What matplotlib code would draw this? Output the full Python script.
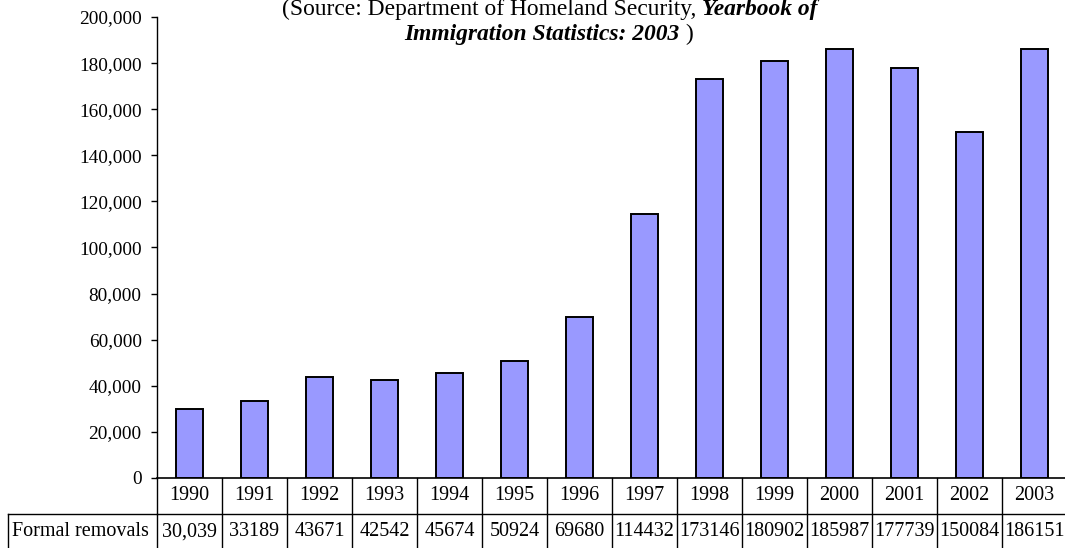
import matplotlib
matplotlib.use("Agg")
import matplotlib.pyplot as plt
import matplotlib.transforms as mtransforms
from matplotlib.ticker import FuncFormatter, MultipleLocator

plt.rcParams['font.family'] = ['Liberation Serif', 'DejaVu Serif']

years = ["1990", "1991", "1992", "1993", "1994", "1995", "1996",
         "1997", "1998", "1999", "2000", "2001", "2002", "2003"]
removals = [30039, 33189, 43671, 42542, 45674, 50924, 69680,
            114432, 173146, 180902, 185987, 177739, 150084, 186151]
table_labels = ["30,039", "33189", "43671", "42542", "45674", "50924", "69680",
                "114432", "173146", "180902", "185987", "177739", "150084", "186151"]
series_name = "Formal removals"

W, H = 1065, 548
FS_TICK = 13.9
FS_TAB = 14.5
FS_TITLE = 16.9
fig = plt.figure(figsize=(W / 100, H / 100), dpi=100)
ax_left, ax_right, ax_top, ax_bottom = 157, 1067, 17, 478
ax = fig.add_axes([ax_left / W, 1 - ax_bottom / H, (ax_right - ax_left) / W, (ax_bottom - ax_top) / H])

x = list(range(len(years)))
ax.bar(x, removals, width=0.43, color="#9999FF", edgecolor="black", linewidth=1.4)
ax.set_xlim(-0.5, len(years) - 0.5)
ax.set_ylim(0, 200000)
ax.yaxis.set_major_locator(MultipleLocator(20000))
ax.yaxis.set_major_formatter(FuncFormatter(lambda v, p: f"{int(v):,}"))
ax.tick_params(axis='y', direction='out', length=4, width=1, labelsize=FS_TICK, pad=7)
ax.set_xticks([])
for s in ['top', 'right']:
    ax.spines[s].set_visible(False)
ax.spines['left'].set_linewidth(1)
ax.spines['bottom'].set_linewidth(1.2)

# data table
tr = mtransforms.blended_transform_factory(ax.transData, fig.transFigure)
def fy(p):
    return 1 - p / H
row1_top, row2_top, row2_bot = 478, 514, 550
n = len(years)
for k in range(n + 1):
    ax.plot([k - 0.5, k - 0.5], [fy(row1_top), fy(row2_bot)], transform=tr,
            color="black", lw=1, clip_on=False)
ax.plot([-0.5, n - 0.5], [fy(row2_top), fy(row2_top)], transform=tr, color="black", lw=1, clip_on=False)
# label cell
fig.add_artist(plt.Line2D([8 / W, ax_left / W], [fy(row2_top), fy(row2_top)], color="black", lw=1))
fig.add_artist(plt.Line2D([8 / W, 8 / W], [fy(row2_top), fy(row2_bot)], color="black", lw=1))
fig.text(12 / W, fy(532), series_name, ha="left", va="center", fontsize=FS_TAB)
for k in range(n):
    ax.text(k, fy(496), years[k], transform=tr, ha="center", va="center", fontsize=FS_TAB)
    ax.text(k, fy(532), table_labels[k], transform=tr, ha="center", va="center", fontsize=FS_TAB)

# title with mixed styles
fig.canvas.draw()
renderer = fig.canvas.get_renderer()
def draw_line(pieces, cx, ypix):
    tmp = []
    total = 0
    for txt, style in pieces:
        t = fig.text(0, 0, txt, fontsize=FS_TITLE, fontweight="bold" if style else "normal",
                     fontstyle="italic" if style else "normal")
        w = t.get_window_extent(renderer).width
        tmp.append((t, w))
        total += w
    xs = cx - total / 2
    for t, w in tmp:
        t.set_position((xs / W, fy(ypix)))
        t.set_va("baseline")
        xs += w

draw_line([("(Source: Department of Homeland Security, ", False), ("Yearbook of", True)], 550, 15)
draw_line([("Immigration Statistics: 2003", True), (" )", False)], 549, 40)

fig.savefig("out.png", dpi=100)
